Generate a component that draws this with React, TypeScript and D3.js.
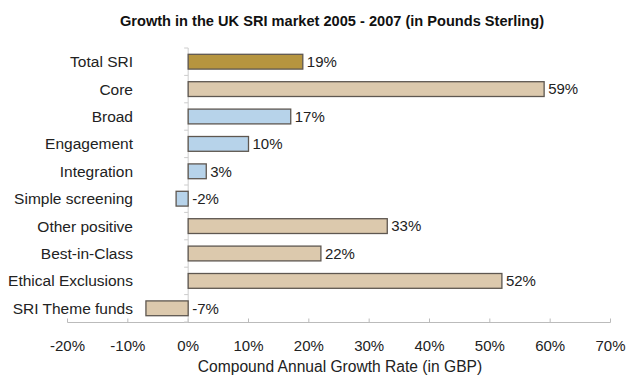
import React, { useRef, useEffect } from "react";
import * as d3 from "d3";

const categories = [
  "Total SRI",
  "Core",
  "Broad",
  "Engagement",
  "Integration",
  "Simple screening",
  "Other positive",
  "Best-in-Class",
  "Ethical Exclusions",
  "SRI Theme funds",
];
const growth = [19, 59, 17, 10, 3, -2, 33, 22, 52, -7];
const groups = ["total", "core", "broad", "broad", "broad", "broad", "core", "core", "core", "core"];
const xTicks = [-20, -10, 0, 10, 20, 30, 40, 50, 60, 70];

const colors: Record<string, string> = {
  total: "#b6953f",
  core: "#dcc9ad",
  broad: "#b7d3ea",
};

const App = () => {
  const ref = useRef(null);

  useEffect(() => {
    const root = d3.select(ref.current);
    root.selectAll("*").remove();

    const width = 627;
    const height = 377;
    const font = "'Liberation Sans', Arial, sans-serif";

    const svg = root
      .append("svg")
      .attr("width", width)
      .attr("height", height)
      .style("display", "block")
      .style("font-family", font);

    const x = d3.scaleLinear().domain([-20, 70]).range([67.5, 610.5]);
    const y = d3.scaleBand().domain(categories).range([48, 322]).paddingInner(0.46).paddingOuter(0.23);

    // title
    svg
      .append("text")
      .attr("x", 332)
      .attr("y", 26)
      .attr("text-anchor", "middle")
      .style("font-size", "14.6px")
      .style("font-weight", "bold")
      .attr("fill", "#111")
      .text("Growth in the UK SRI market 2005 - 2007 (in Pounds Sterling)");

    // x axis
    const xAxis = svg.append("g").attr("transform", "translate(0,322.5)");
    xAxis
      .append("line")
      .attr("x1", x(-20))
      .attr("x2", x(70))
      .attr("stroke", "#bbb");
    xAxis
      .selectAll(".tick")
      .data(xTicks)
      .enter()
      .append("line")
      .attr("x1", (d) => x(d))
      .attr("x2", (d) => x(d))
      .attr("y1", 0)
      .attr("y2", -4)
      .attr("stroke", "#bbb");
    xAxis
      .selectAll(".lbl")
      .data(xTicks)
      .enter()
      .append("text")
      .attr("x", (d) => x(d))
      .attr("y", 28.5)
      .attr("text-anchor", "middle")
      .style("font-size", "15px")
      .attr("fill", "#222")
      .text((d) => `${d}%`);

    svg
      .append("text")
      .attr("x", 340)
      .attr("y", 372)
      .attr("text-anchor", "middle")
      .style("font-size", "15.6px")
      .attr("fill", "#222")
      .text("Compound Annual Growth Rate (in GBP)");

    // y axis
    const x0 = x(0);
    svg
      .append("line")
      .attr("x1", x0)
      .attr("x2", x0)
      .attr("y1", 48)
      .attr("y2", 322)
      .attr("stroke", "#ccc");
    const bounds = d3.range(categories.length + 1).map((i) => 48 + (i * 274) / categories.length);
    svg
      .selectAll(".ytick")
      .data(bounds)
      .enter()
      .append("line")
      .attr("x1", x0 - 4)
      .attr("x2", x0)
      .attr("y1", (d) => d)
      .attr("y2", (d) => d)
      .attr("stroke", "#ccc");

    svg
      .selectAll(".cat")
      .data(categories)
      .enter()
      .append("text")
      .attr("x", 133)
      .attr("y", (d) => (y(d) as number) + y.bandwidth() / 2)
      .attr("dy", "0.35em")
      .attr("text-anchor", "end")
      .style("font-size", "15.5px")
      .attr("fill", "#222")
      .text((d) => d);

    // bars
    svg
      .selectAll(".bar")
      .data(growth)
      .enter()
      .append("rect")
      .attr("x", (d) => x(Math.min(0, d)))
      .attr("y", (d, i) => y(categories[i]) as number)
      .attr("width", (d) => Math.abs(x(d) - x0))
      .attr("height", y.bandwidth())
      .attr("fill", (d, i) => colors[groups[i]])
      .attr("stroke", "#5e5750")
      .attr("stroke-width", 1.3);

    svg
      .selectAll(".val")
      .data(growth)
      .enter()
      .append("text")
      .attr("x", (d) => Math.max(x(d), x0) + 4)
      .attr("y", (d, i) => (y(categories[i]) as number) + y.bandwidth() / 2)
      .attr("dy", "0.35em")
      .style("font-size", "15px")
      .attr("fill", "#222")
      .text((d) => `${d}%`);
  }, []);

  return <div ref={ref} style={{ position: "absolute", left: 0, top: 0 }} />;
};

export default App;
